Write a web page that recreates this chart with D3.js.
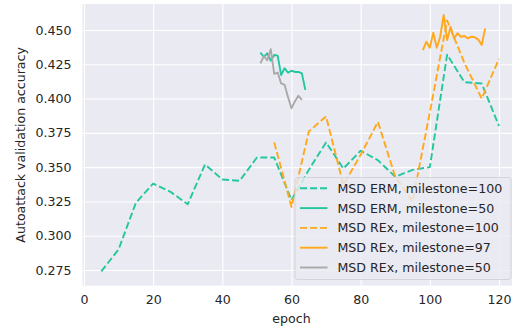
<!DOCTYPE html>
<html>
<head>
<meta charset="utf-8">
<script src="https://cdn.jsdelivr.net/npm/d3@7"></script>
<style>
  html, body { margin: 0; padding: 0; background: #fff; }
  svg { display: block; font-family: "DejaVu Sans", sans-serif; }
</style>
</head>
<body>
<svg id="chart" width="512" height="331"></svg>
<script>
// Autoattack validation accuracy per epoch for each training run
const ermEpochs100 = [5,10,15,20,25,30,35,40,45,50,55,60,65,70,75,80,85,90,95,100,105,110,115,120];
const ermAcc100 = [0.274,0.290,0.324,0.338,0.332,0.323,0.352,0.341,0.340,0.357,0.357,0.326,0.348,0.368,0.349,0.362,0.355,0.343,0.348,0.350,0.432,0.412,0.411,0.380];

const ermEpochs50 = [51,52,53,54,55,56,57,58,59,60,61,62,63,64];
const ermAcc50 = [0.4335,0.4305,0.4330,0.4276,0.4318,0.4313,0.4172,0.4221,0.4189,0.4203,0.4194,0.4194,0.4184,0.4063];

const rexEpochs100 = [55,60,65,70,75,80,85,90,95,100,105,110,115,120];
const rexAcc100 = [0.368,0.321,0.376,0.387,0.337,0.359,0.383,0.343,0.325,0.390,0.457,0.426,0.400,0.429];

const rexEpochs97 = [98,99,100,101,102,103,104,105,106,107,108,109,110,111,112,113,114,115,116];
const rexAcc97 = [0.4354,0.4415,0.4371,0.4481,0.4371,0.4451,0.4609,0.4427,0.4524,0.4439,0.4476,0.4451,0.4456,0.4439,0.4451,0.4447,0.4430,0.4391,0.4512];

const rexEpochs50 = [51,52,53,54,55,56,57,58,59,60,61,62,63];
const rexAcc50 = [0.4257,0.4310,0.4280,0.4360,0.4180,0.4190,0.4110,0.4100,0.4010,0.3930,0.3980,0.4020,0.3990];

const xTicks = [0,20,40,60,80,100,120];
const yTicks = [0.275,0.300,0.325,0.350,0.375,0.400,0.425,0.450];

const seriesLabels = ["MSD ERM, milestone=100","MSD ERM, milestone=50","MSD REx, milestone=100","MSD REx, milestone=97","MSD REx, milestone=50"];

const teal = "#22c79e", orange = "#ffa81c", gray = "#a9a9a9";
const series = [
  {label: seriesLabels[0], x: ermEpochs100, y: ermAcc100, color: teal, dash: "7,3"},
  {label: seriesLabels[1], x: ermEpochs50, y: ermAcc50, color: teal, dash: null},
  {label: seriesLabels[2], x: rexEpochs100, y: rexAcc100, color: orange, dash: "7,3"},
  {label: seriesLabels[3], x: rexEpochs97, y: rexAcc97, color: orange, dash: null},
  {label: seriesLabels[4], x: rexEpochs50, y: rexAcc50, color: gray, dash: null}
];

const svg = d3.select("#chart");
const plot = {left: 82.5, top: 4, right: 530, bottom: 285.7};
const textColor = "#262626";

const x = d3.scaleLinear().domain([0, 120]).range([84, 499]);
const y = d3.scaleLinear().domain([0.275, 0.450]).range([270, 30]);

svg.append("defs").append("clipPath").attr("id", "plotclip")
  .append("rect")
  .attr("x", plot.left).attr("y", plot.top)
  .attr("width", plot.right - plot.left).attr("height", plot.bottom - plot.top);

// axes background
svg.append("rect")
  .attr("x", plot.left).attr("y", plot.top)
  .attr("width", plot.right - plot.left).attr("height", plot.bottom - plot.top)
  .attr("fill", "#eaeaf2");

// white grid via axis ticks
const gx = svg.append("g")
  .attr("transform", `translate(0,${plot.bottom})`)
  .call(d3.axisBottom(x).tickValues(xTicks).tickSize(-(plot.bottom - plot.top)).tickPadding(9).tickFormat(d3.format("d")));
const gy = svg.append("g")
  .attr("transform", `translate(${plot.left},0)`)
  .call(d3.axisLeft(y).tickValues(yTicks).tickSize(-(plot.right - plot.left)).tickPadding(11).tickFormat(d3.format(".3f")));

[gx, gy].forEach(g => {
  g.select(".domain").remove();
  g.selectAll(".tick line").attr("stroke", "#ffffff").attr("stroke-width", 1.1);
  g.selectAll(".tick text")
    .attr("fill", textColor)
    .style("font-size", "12.6px")
    .style("font-family", "'DejaVu Sans', sans-serif");
});

// data lines
const lines = svg.append("g").attr("clip-path", "url(#plotclip)");
const lineGen = d3.line().x(d => x(d[0])).y(d => y(d[1]));
series.forEach(s => {
  lines.append("path")
    .datum(s.x.map((e, i) => [e, s.y[i]]))
    .attr("d", lineGen)
    .attr("fill", "none")
    .attr("stroke", s.color)
    .attr("stroke-width", 1.9)
    .attr("stroke-linejoin", "round")
    .attr("stroke-dasharray", s.dash);
});

// axis titles
svg.append("text")
  .attr("x", x(60) + 0).attr("y", 323)
  .attr("text-anchor", "middle")
  .attr("fill", textColor)
  .style("font-size", "12.6px")
  .text("epoch");
svg.append("text")
  .attr("transform", `translate(24.5,${(plot.top + plot.bottom) / 2}) rotate(-90)`)
  .attr("text-anchor", "middle")
  .attr("fill", textColor)
  .style("font-size", "12.6px")
  .text("Autoattack validation accuracy");

// legend
const leg = svg.append("g");
leg.append("rect")
  .attr("x", 295).attr("y", 177.5)
  .attr("width", 216).attr("height", 102)
  .attr("rx", 3)
  .attr("fill", "#eaeaf2").attr("fill-opacity", 0.8)
  .attr("stroke", "#d3d3d8").attr("stroke-width", 1);
series.forEach((s, i) => {
  const cy = 188.3 + i * 19.8;
  leg.append("line")
    .attr("x1", 300).attr("x2", 327.5)
    .attr("y1", cy).attr("y2", cy)
    .attr("stroke", s.color).attr("stroke-width", 1.9)
    .attr("stroke-dasharray", s.dash);
  leg.append("text")
    .attr("x", 337.5).attr("y", cy)
    .attr("dy", "0.36em")
    .attr("fill", textColor)
    .style("font-size", "12.6px")
    .text(s.label);
});
</script>
</body>
</html>
